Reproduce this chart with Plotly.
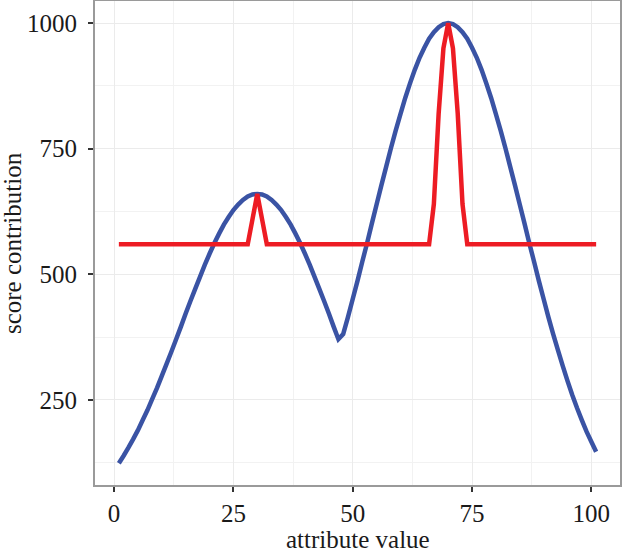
import plotly.graph_objects as go

x_vals = list(range(1, 102))

blue_scores = [124, 139, 155, 172, 190, 210, 230, 252, 274, 298, 322, 346, 371, 396, 422, 447, 471, 495, 519, 541,
               562, 581, 599, 614, 628, 639, 648, 655, 659, 660,
               659, 655, 648, 639, 628, 614, 599, 581, 562, 541, 519, 495, 471, 447, 422, 396, 371,
               381, 415, 451, 487, 525, 562, 601, 639, 677, 714, 751, 786, 819, 851, 880, 907, 931, 951, 969, 982, 992, 998,
               1000,
               998, 992, 982, 969, 951, 931, 907, 880, 851, 819, 786, 751, 714, 677, 639, 601, 562, 525, 487, 451, 415, 381,
               349, 318, 288, 260, 234, 210, 187, 167, 147]

red_x = [1, 28, 29, 30, 31, 32, 66, 67, 68, 69, 70, 71, 72, 73, 74, 101]
red_scores = [560, 560, 610, 660, 610, 560, 560, 640, 820, 950, 1000, 950, 820, 640, 560, 560]

x_ticks = [0, 25, 50, 75, 100]
y_ticks = [250, 500, 750, 1000]

fig = go.Figure()
fig.add_trace(go.Scatter(x=x_vals, y=blue_scores, mode="lines",
                         line=dict(color="#3A53A4", width=4.5, simplify=False), showlegend=False))
fig.add_trace(go.Scatter(x=red_x, y=red_scores, mode="lines",
                         line=dict(color="#ED1C24", width=4.5, simplify=False), showlegend=False))

font_family = "Liberation Serif"
axis_common = dict(
    showline=True, mirror=True, linecolor="#9a9a9a", linewidth=2,
    ticks="outside", ticklen=5, tickwidth=2, tickcolor="#333333",
    showgrid=True, gridcolor="#ebebeb", gridwidth=1,
    zeroline=False, automargin=False,
    tickfont=dict(family=font_family, size=25, color="#1a1a1a"),
)

fig.update_layout(
    width=623, height=554,
    margin=dict(l=95, r=3, t=1, b=69),
    paper_bgcolor="white", plot_bgcolor="white",
    font=dict(family=font_family, color="#1a1a1a"),
    xaxis=dict(range=[-4, 106], tickvals=x_ticks,
               minor=dict(tickvals=[12.5, 37.5, 62.5, 87.5], showgrid=True, gridcolor="#f2f2f2", ticks=""),
               ticklabelstandoff=0,
               **axis_common),
    yaxis=dict(range=[80.8, 1044], tickvals=y_ticks,
               minor=dict(tickvals=[125, 375, 625, 875], showgrid=True, gridcolor="#f2f2f2", ticks=""),
               ticklabelstandoff=6,
               **axis_common),
    annotations=[
        dict(text="attribute value", xref="paper", yref="paper", x=0.5, y=-0.1136,
             xanchor="center", yanchor="middle", showarrow=False,
             font=dict(family=font_family, size=25, color="#1a1a1a")),
        dict(text="score contribution", xref="paper", yref="paper", x=-0.158, y=0.5,
             xanchor="center", yanchor="middle", showarrow=False, textangle=-90,
             font=dict(family=font_family, size=25, color="#1a1a1a")),
    ],
)

fig.write_html("out.html", config={"displayModeBar": False},
               post_script="document.body.style.margin='0px';")
